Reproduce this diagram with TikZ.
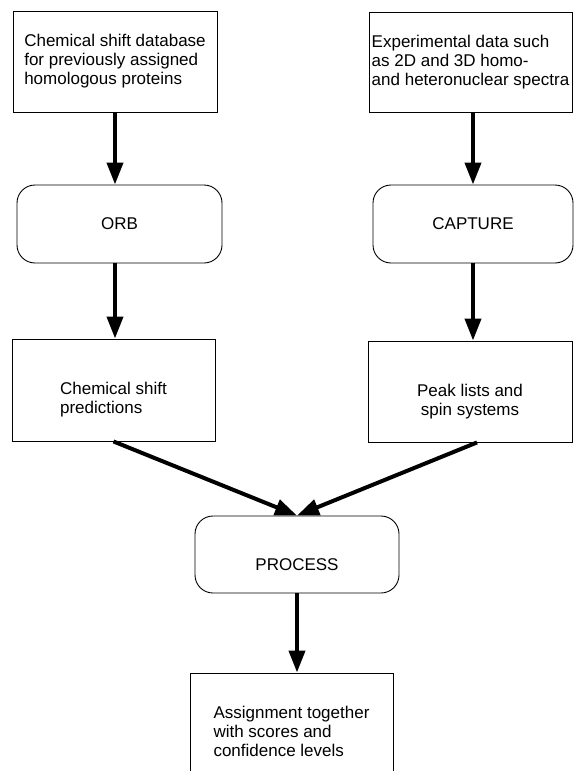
\documentclass[tikz,border=0pt]{standalone}
\usepackage{fontspec}
\setmainfont{Liberation Sans}
\usetikzlibrary{arrows.meta}

\begin{document}
\begin{tikzpicture}[x=1pt,y=-1pt,
    txtbox/.style={draw, line width=0.9pt, inner sep=0pt,
      font=\fontsize{17}{19}\selectfont},
    procbox/.style={txtbox, rounded corners=18pt},
    flow/.style={-{Triangle[width=16pt,length=22pt]}, line width=4pt}]
  \useasboundingbox (0,0) rectangle (574,771);
  \clip (0,0) rectangle (574,771);

  %% inputs
  \node[txtbox, align=left, minimum width=204, minimum height=101] (db) at (115,61.5)
    {Chemical shift database\\for previously assigned\\homologous proteins};
  \node[txtbox, align=left, minimum width=203, minimum height=100] (exp) at (470.5,62)
    {Experimental data such\\as 2D and 3D homo-\\and heteronuclear spectra};

  %% programs
  \node[procbox, minimum width=205, minimum height=78] (orb) at (119.5,224) {ORB};
  \node[procbox, minimum width=200, minimum height=78] (cap) at (473,224) {CAPTURE};

  %% intermediate results
  \node[txtbox, align=left, minimum width=203, minimum height=102] (pred) at (113.5,390)
    {\rule{0pt}{32pt}Chemical shift\\predictions};
  \node[txtbox, align=center, minimum width=204, minimum height=101] (peak) at (470,391.5)
    {\rule{0pt}{32pt}Peak lists and\\spin systems};

  %% assignment
  \node[procbox, minimum width=204, minimum height=77] (proc) at (297,554.5)
    {\rule{0pt}{33pt}PROCESS};
  \node[txtbox, align=left, minimum width=203, minimum height=117] (res) at (291.5,731.5)
    {Assignment together\\with scores and\\confidence levels};

  %% arrows
  \draw[flow] (db.south) -- (db.south |- orb.north);
  \draw[flow] (exp.south -| cap.south) -- (cap.north);
  \draw[flow] (db.south |- orb.south) -- (db.south |- pred.north);
  \draw[flow] (cap.south) -- (cap.south |- peak.north);
  \draw[flow] (pred.south) -- (proc.north);
  \draw[flow] ([xshift=7]peak.south) -- (proc.north);
  \draw[flow] (proc.south) -- (proc.south |- res.north);

\end{tikzpicture}
\end{document}
